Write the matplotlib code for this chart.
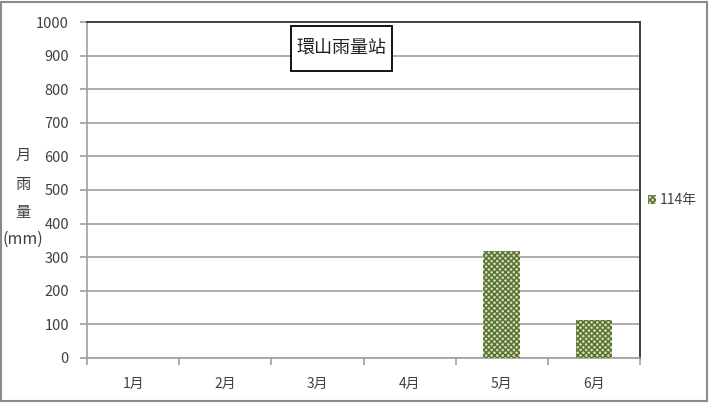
import matplotlib.pyplot as plt
from matplotlib.patches import Rectangle

plt.rcParams['font.family'] = ['Noto Sans CJK TC', 'DejaVu Sans']
plt.rcParams['hatch.linewidth'] = 1.1

# monthly rainfall (mm)
months = ['1月', '2月', '3月', '4月', '5月', '6月']
rain_114 = [0, 0, 0, 0, 318, 113]
series_name = '114年'
station = '環山雨量站'
y_ticks = list(range(0, 1001, 100))

fig = plt.figure(figsize=(7.1, 4.03), dpi=100)
ax = fig.add_axes([0.1225, 0.1117, 0.779, 0.8337])

x = list(range(len(months)))
ax.bar(x, rain_114, width=0.4, color='#d3dcbd', edgecolor='#5a7230', linewidth=0,
       hatch='xxxxxx', label=series_name, zorder=3)

ax.set_xlim(-0.5, len(months) - 0.5)
ax.set_ylim(0, 1000)
ax.set_yticks(y_ticks)
ax.yaxis.grid(True, color='#a0a0a0', linewidth=1.2, zorder=0)

ax.set_xticks(x)
ax.set_xticklabels(months)
ax.set_xticks([i + 0.5 for i in range(-1, len(months))], minor=True)
ax.tick_params(axis='x', which='major', length=0, pad=14, labelsize=10, labelcolor='#404040')
ax.tick_params(axis='x', which='minor', length=5, color='#a0a0a0', width=1.2)
ax.tick_params(axis='y', length=5, color='#a0a0a0', width=1.2, labelsize=10.5,
               labelcolor='#404040', pad=8)

ax.spines['left'].set_color('#a0a0a0')
ax.spines['bottom'].set_color('#a0a0a0')
for s in ['left', 'bottom']:
    ax.spines[s].set_linewidth(1.2)
for s in ['top', 'right']:
    ax.spines[s].set_color('#404040')
    ax.spines[s].set_linewidth(1.4)

# y label written vertically, one character per line
for txt, ypix, fs in [('月', 155, 11), ('雨', 185, 11), ('量', 212, 11), ('(mm)', 239, 11.5)]:
    fig.text(23 / 710, 1 - ypix / 403, txt, ha='center', va='center',
             fontsize=fs, color='#404040')

# title box
fig.patches.append(Rectangle((291 / 710, 1 - 71 / 403), 101 / 710, 45 / 403,
                             transform=fig.transFigure, facecolor='white',
                             edgecolor='black', linewidth=1.3, zorder=5))
fig.text(341 / 710, 1 - 48 / 403, station, ha='center', va='center',
         fontsize=13, color='#202020', zorder=6)

fig.legend(loc='center left', bbox_to_anchor=(635 / 710, 1 - 200 / 403),
           frameon=False, fontsize=10, handlelength=0.6, handleheight=0.6,
           handletextpad=0.3, labelcolor='#404040')

# outer border
fig.patches.append(Rectangle((0.002, 0.004), 0.994, 0.992, transform=fig.transFigure,
                             facecolor='none', edgecolor='#8a8a8a', linewidth=1.5))

fig.savefig('out.png', dpi=100)
